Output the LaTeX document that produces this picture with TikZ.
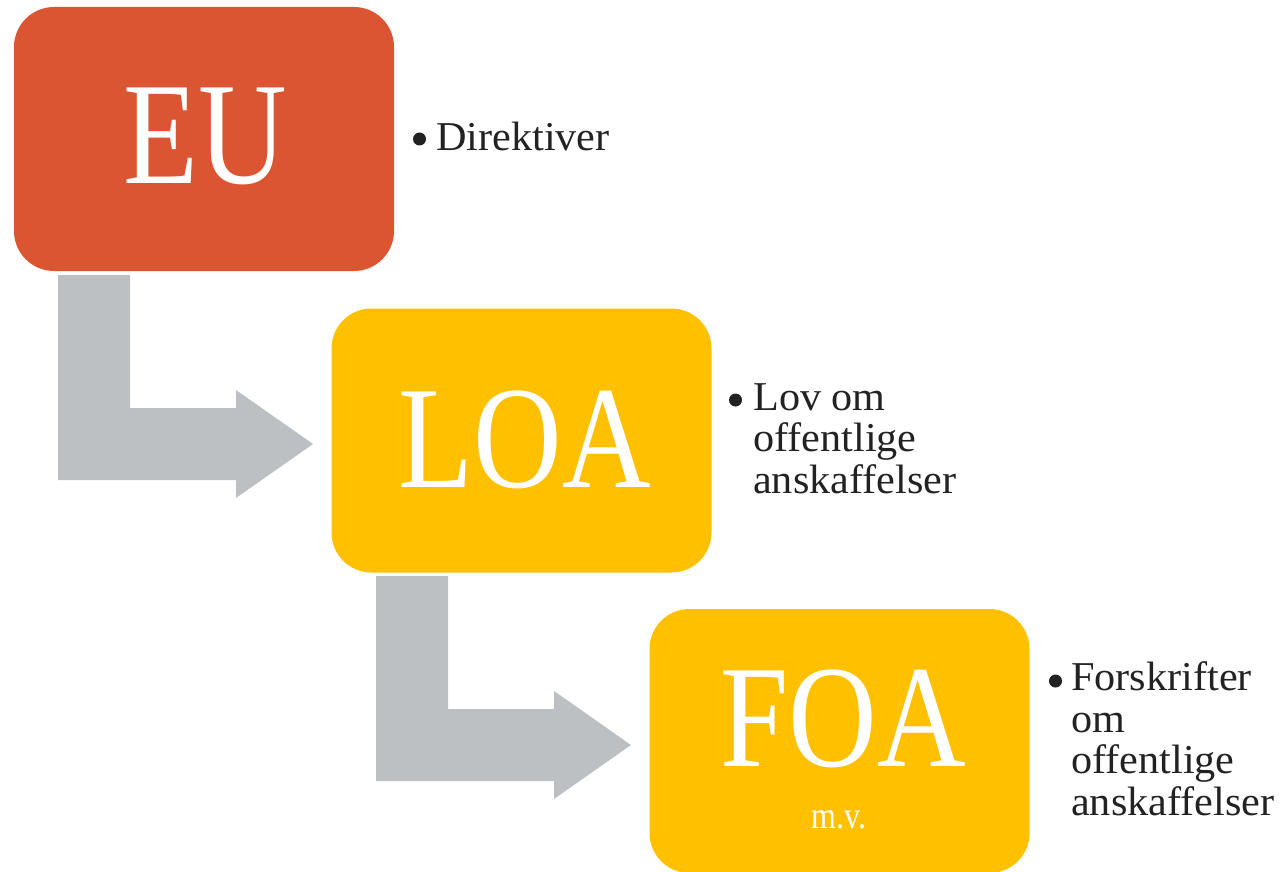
\documentclass[tikz,border=0pt]{standalone}
\usepackage{fontspec}
\setmainfont[FakeStretch=1.03]{Liberation Serif}
\newfontfamily\bigfont[FakeStretch=0.84]{Liberation Serif}
\definecolor{eured}{HTML}{DC5533}
\definecolor{loayel}{HTML}{FFC000}
\definecolor{arrgray}{HTML}{BDC0C3}
\definecolor{txtdark}{HTML}{222222}
\tikzset{
  boxnode/.style={draw=none, rounded corners=40pt, minimum width=380pt, minimum height=264pt, inner sep=0pt},
  biglbl/.style={text=white, font=\bigfont\fontsize{146}{146}\selectfont, inner sep=0pt, anchor=base},
  smalllbl/.style={text=white, font=\bigfont\fontsize{38}{38}\selectfont, inner sep=0pt, anchor=base},
  bodytxt/.style={text=txtdark, font=\fontsize{41}{41}\selectfont, inner sep=0pt, anchor=base west},
  bulletdot/.style={circle, fill=txtdark, draw=none, minimum size=13pt, inner sep=0pt},
  bendarrow/.style={fill=arrgray, draw=none}
}
\begin{document}
\begin{tikzpicture}[x=1pt, y=-1pt]
\useasboundingbox (0,0) rectangle (1283,872);
% bent arrows
\fill[bendarrow] (58,275) -- (130,275) -- (130,408) -- (236,408) -- (236,390) -- (313,444) -- (236,498) -- (236,480) -- (58,480) -- cycle;
\fill[bendarrow] (376,576) -- (448,576) -- (448,709) -- (554,709) -- (554,691) -- (631,745) -- (554,799) -- (554,781) -- (376,781) -- cycle;
% boxes
\node[boxnode, fill=eured] (eu) at (204,139) {};
\node[boxnode, fill=loayel] (loa) at (521.5,440.5) {};
\node[boxnode, fill=loayel] (foa) at (839.5,741) {};
% box labels
\node[biglbl] (eut) at (205,183) {EU};
\node[biglbl] (loat) at (525,487) {LOA};
\node[biglbl] (foat) at (843,766) {FOA};
\node[smalllbl] (mv) at (839,828) {m.v.};
% bullets and text
\node[bulletdot] (b1) at (419.5,139) {};
\node[bodytxt] (t1) at (436,151) {Direktiver};
\node[bulletdot] (b2) at (735.5,400) {};
\node[bodytxt] (t2a) at (753,410) {Lov om};
\node[bodytxt] (t2b) at (753,451.5) {offentlige};
\node[bodytxt] (t2c) at (753,493) {anskaffelser};
\node[bulletdot] (b3) at (1055.5,681) {};
\node[bodytxt] (t3a) at (1071,690.5) {Forskrifter};
\node[bodytxt] (t3b) at (1071,732) {om};
\node[bodytxt] (t3c) at (1071,773.5) {offentlige};
\node[bodytxt] (t3d) at (1071,815) {anskaffelser};
\end{tikzpicture}
\end{document}
